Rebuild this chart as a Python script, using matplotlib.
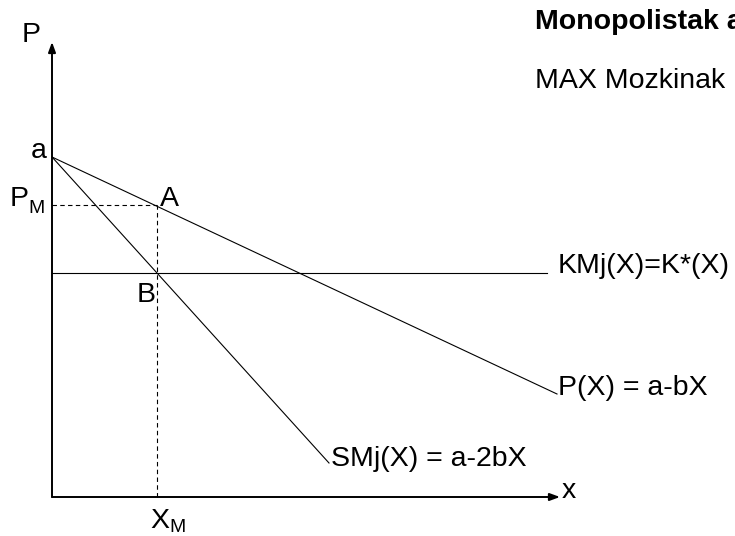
import matplotlib.pyplot as plt

# --- datuak (jatorria: ardatzen ebakidura) ---
a = 340
demand_x = [0, 505]
demand_y = [a, 103]
smj_x = [0, 277]
smj_y = [a, 34]
kmj_x = [0, 495]
kmj_y = [224, 224]
x_m = 105
p_m = 292
x_axis_end = 508
y_axis_end = 455

plt.rcParams['font.family'] = ['Liberation Sans', 'DejaVu Sans']

fig = plt.figure(figsize=(7.35, 5.36), dpi=100)
ax = fig.add_axes([0, 0, 1, 1])
ax.set_xlim(-52, 683)
ax.set_ylim(-39, 497)
ax.axis('off')

# ardatzak
arr = dict(arrowstyle='-|>,head_length=0.6,head_width=0.22', color='black', lw=1.4,
           shrinkA=0, shrinkB=0)
ax.annotate('', xy=(x_axis_end, 0), xytext=(0, 0), arrowprops=arr)
ax.annotate('', xy=(0, y_axis_end), xytext=(0, 0), arrowprops=arr)

# kurbak
ax.plot(demand_x, demand_y, color='black', lw=0.8)
ax.plot(smj_x, smj_y, color='black', lw=0.8)
ax.plot(kmj_x, kmj_y, color='black', lw=0.8)

# marra etenak
ax.plot([0, x_m], [p_m, p_m], color='black', lw=0.8, linestyle=(0, (4, 3)))
ax.plot([x_m, x_m], [0, p_m], color='black', lw=0.8, linestyle=(0, (4, 3)))

fs = 20.5
sub = 14
def txt(x, y, s, size=fs, **kw):
    ax.text(x, y, s, fontsize=size, ha='left', va='baseline', **kw)

txt(-30, 455, 'P')
txt(-21, 339, 'a')
txt(-42, 291, 'P')
txt(-24, 284, 'M', size=sub)
txt(108, 291, 'A')
txt(85, 195, 'B')
txt(98, -31, 'X')
txt(117, -35, 'M', size=sub)
txt(510, -1, 'x')
txt(506, 224, 'KMj(X)=K*(X)')
txt(506, 102, 'P(X) = a-bX')
txt(279, 31, 'SMj(X) = a-2bX')
txt(483, 468, 'Monopolistak a', fontweight='bold')
txt(483, 409, 'MAX Mozkinak')

fig.savefig('out.png', dpi=100)
